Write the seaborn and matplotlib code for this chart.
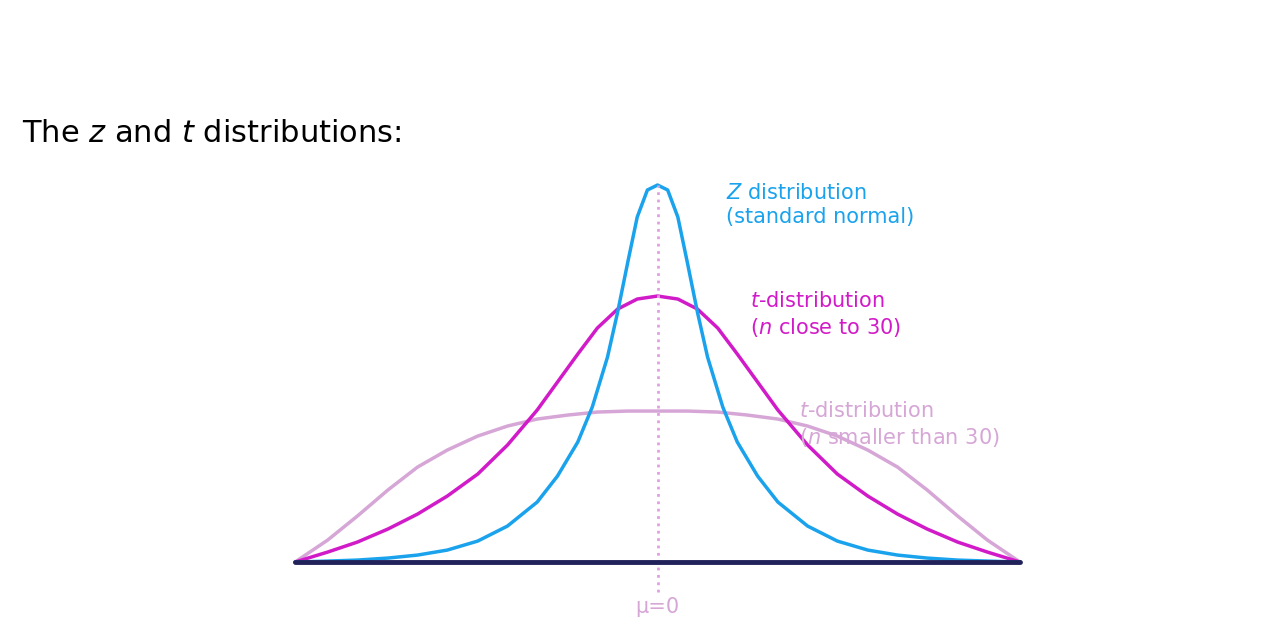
import matplotlib
matplotlib.use("Agg")
import matplotlib.pyplot as plt
import seaborn as sns

# Curve points (x in units, height in units)
z_x = [-5.0, -4.55, -4.14, -3.72, -3.31, -2.90, -2.48, -2.07, -1.66, -1.38, -1.10,
       -0.90, -0.69, -0.55, -0.41, -0.28, -0.14, 0.0,
       0.14, 0.28, 0.41, 0.55, 0.69, 0.90, 1.10, 1.38, 1.66, 2.07, 2.48, 2.90,
       3.31, 3.72, 4.14, 4.55, 5.0]
z_y = [0.0, 0.01, 0.02, 0.04, 0.07, 0.12, 0.21, 0.36, 0.60, 0.86, 1.20,
       1.55, 2.05, 2.50, 3.00, 3.45, 3.72, 3.77,
       3.72, 3.45, 3.00, 2.50, 2.05, 1.55, 1.20, 0.86, 0.60, 0.36, 0.21, 0.12,
       0.07, 0.04, 0.02, 0.01, 0.0]

t30_x = [-5.0, -4.55, -4.14, -3.72, -3.31, -2.90, -2.48, -2.07, -1.66, -1.38, -1.10,
         -0.83, -0.55, -0.28, 0.0,
         0.28, 0.55, 0.83, 1.10, 1.38, 1.66, 2.07, 2.48, 2.90, 3.31, 3.72,
         4.14, 4.55, 5.0]
t30_y = [0.0, 0.10, 0.20, 0.33, 0.48, 0.66, 0.88, 1.17, 1.52, 1.80, 2.08,
         2.34, 2.53, 2.63, 2.66,
         2.63, 2.53, 2.34, 2.08, 1.80, 1.52, 1.17, 0.88, 0.66, 0.48, 0.33,
         0.20, 0.10, 0.0]

tsm_x = [-5.0, -4.55, -4.14, -3.72, -3.31, -2.90, -2.48, -2.07, -1.66, -1.24, -0.83,
         -0.41, 0.0, 0.41, 0.83, 1.24, 1.66, 2.07, 2.48, 2.90, 3.31, 3.72,
         4.14, 4.55, 5.0]
tsm_y = [0.0, 0.22, 0.46, 0.72, 0.95, 1.12, 1.26, 1.36, 1.43, 1.47, 1.50,
         1.51, 1.51, 1.51, 1.50, 1.47, 1.43, 1.36, 1.26, 1.12, 0.95, 0.72,
         0.46, 0.22, 0.0]

BLUE = "#1aa3ec"
MAGENTA = "#d21bc8"
LIGHT = "#d6a6d6"

sns.set_style("white")
fig = plt.figure(figsize=(12.64, 6.38), dpi=100)
ax = fig.add_axes([0.2334, 0.119, 0.5736, 0.591])

sns.lineplot(x=tsm_x, y=tsm_y, ax=ax, color=LIGHT, linewidth=2.5, clip_on=False)
sns.lineplot(x=t30_x, y=t30_y, ax=ax, color=MAGENTA, linewidth=2.5, clip_on=False)
sns.lineplot(x=z_x, y=z_y, ax=ax, color=BLUE, linewidth=2.5, clip_on=False)

ax.plot([0, 0], [-0.3, 3.77], color="#e0a0e0", linestyle=":", linewidth=2, clip_on=False)
ax.plot([-5, 5], [0, 0], color="#22225a", linewidth=3.5, clip_on=False)

ax.set_xlim(-5, 5)
ax.set_ylim(0, 3.77)
ax.axis("off")

ax.text(0.94, 3.57, "$Z$ distribution\n(standard normal)", color=BLUE,
        fontsize=15, va="center", linespacing=1.3)
ax.text(1.28, 2.47, "$t$-distribution\n($n$ close to 30)", color=MAGENTA,
        fontsize=15, va="center", linespacing=1.3)
ax.text(1.95, 1.37, "$t$-distribution\n($n$ smaller than 30)", color=LIGHT,
        fontsize=15, va="center", linespacing=1.3)
ax.text(0, -0.45, "μ=0", color=LIGHT, fontsize=15, ha="center", va="center")

fig.text(22 / 1264, 1 - 133 / 638, "The $z$ and $t$ distributions:",
         fontsize=22, va="center", ha="left", color="black")

fig.savefig("out.png", dpi=100)
